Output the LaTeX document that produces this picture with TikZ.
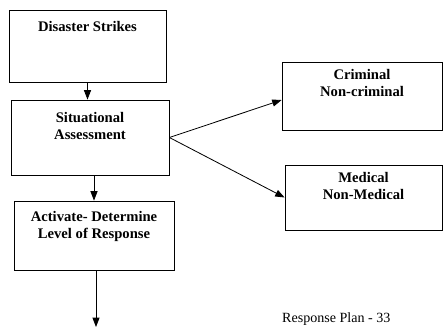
\documentclass[tikz,border=0pt]{standalone}
\usepackage{fontspec}
\setmainfont{Liberation Serif}
\usepackage{tikz}
\usetikzlibrary{arrows.meta, positioning, calc}

\begin{document}
\begin{tikzpicture}[
    x=0.03cm, y=-0.03cm,
    box/.style={rectangle, draw, line width=0.7pt, inner sep=0pt},
    boxtext/.style={font=\fontsize{12.5}{14.5}\selectfont\bfseries, align=center, inner sep=0pt},
    arrow/.style={-{Triangle[length=8pt, width=6pt]}, line width=0.7pt},
]
    \useasboundingbox (0,0) rectangle (443,328);

    % Column 1: main steps
    \node[box, minimum width=4.71cm, minimum height=2.16cm] (disaster) at (87.5,46) {};
    \node[boxtext, below=0.36cm of disaster.north] (disastertext) {Disaster Strikes};

    \node[box, minimum width=4.74cm, minimum height=2.25cm] (situation) at (90,137.5) {};
    \node[boxtext, below=0.38cm of situation.north] (situationtext) {Situational\\Assessment};

    \node[box, minimum width=4.8cm, minimum height=2.07cm] (activate) at (94,235.5) {};
    \node[boxtext, below=0.33cm of activate.north] (activatetext) {Activate- Determine\\Level of Response};

    % Column 2: assessment outcomes
    \node[box, minimum width=4.8cm, minimum height=2.04cm] (criminal) at (362,96) {};
    \node[boxtext, below=0.24cm of criminal.north] (criminaltext) {Criminal\\Non-criminal};

    \node[box, minimum width=4.71cm, minimum height=1.95cm] (medical) at (363.5,197.5) {};
    \node[boxtext, below=0.24cm of medical.north] (medicaltext) {Medical\\Non-Medical};

    % Footer
    \node[font=\fontsize{12}{14}\selectfont, anchor=base west, inner sep=0pt] (footer) at (282,322) {Response Plan - 33};

    % Free end of last arrow
    \coordinate (next) at (96,327);

    % Arrows
    \draw[arrow] (disaster.south) -- (disaster.south |- situation.north);
    \draw[arrow] (situation.south -| activate.north) -- (activate.north);
    \draw[arrow] (activate.south -| next) -- (next);
    \draw[arrow] (situation.east) -- ($(criminal.west)+(0,4)$);
    \draw[arrow] (situation.east) -- (medical.west);
\end{tikzpicture}
\end{document}
